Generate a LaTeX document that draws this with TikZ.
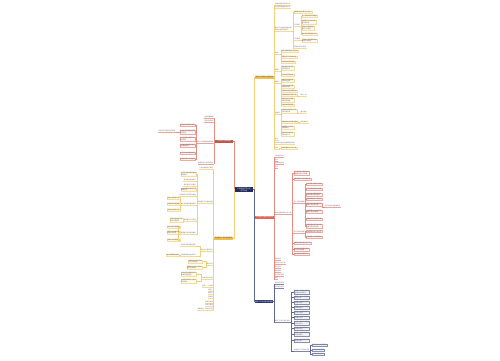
\documentclass[tikz,border=0pt]{standalone}
\usepackage{fontspec}
\newfontfamily\cjk{Noto Sans CJK SC}
\definecolor{navy}{HTML}{2A3470}
\definecolor{gold}{HTML}{F2BF4A}
\definecolor{rd}{HTML}{E0665A}
\definecolor{txt}{HTML}{6A6A6A}
\tikzset{
  every node/.style={font=\cjk\fontsize{1.5}{1.8}\selectfont, inner sep=.3pt, align=left, text=txt},
  lk/.style={draw=#1!75, line width=.22pt},
  lab/.style={append after command={(\tikzlastnode.south west) edge[draw=#1!60, line width=.2pt] (\tikzlastnode.south east)}},
  box/.style={draw=#1!55, fill=#1!6, line width=.2pt},
  mainbox/.style={fill=#1, minimum width=18pt, minimum height=3pt, inner sep=.4pt, font=\cjk\fontsize{1.6}{1.9}\selectfont},
  rootbox/.style={fill=navy!85!black, text=white, minimum width=18pt, minimum height=5pt, inner sep=.4pt, font=\cjk\fontsize{1.7}{2}\selectfont, align=center},
}
\begin{document}
\begin{tikzpicture}[x=1pt,y=-1pt]
\fill[white] (0,0) rectangle (500,360);
\useasboundingbox (0,0) rectangle (500,360);

% centre and main branches
\node[rootbox] (root) at (244,189.5) {公司年度工作计划\\范文大全};
\node[mainbox=gold, text=black!75, anchor=west] (gm) at (255,77) {年度工作目标与主要任务};
\node[mainbox=rd, text=white, anchor=west] (rm) at (255,217) {工作措施与具体实施安排};
\node[mainbox=navy, text=white, anchor=west] (nm) at (254.5,301.5) {各部门工作计划安排说明};
\node[mainbox=rd!85!black, text=white, anchor=east] (lm) at (233,141) {工作原则与保障措施};
\node[mainbox=gold, text=black!75, anchor=east] (ym) at (233,238) {年度重点工作安排及要求};

\draw[lk=gold, line width=.35pt] (root.east) -- ++(1,0) |- (gm.west);
\draw[lk=rd, line width=.35pt] (root.east) -- ++(1,0) |- (rm.west);
\draw[lk=navy, line width=.35pt] (root.east) -- ++(1,0) |- (nm.west);
\draw[lk=rd, line width=.35pt] (root.west) -- ++(-1,0) |- (lm.east);
\draw[lk=gold, line width=.35pt] (root.west) -- ++(-1,0) |- (ym.east);

% gold branch
\foreach \y/\tx [count=\i] in {4.3/{全面完成全年各项工作},7.3/{努力提升整体服务水平},29/{重点工作内容及具体实施\\措施与进度安排如下},53/{措施一},70/{措施二},82/{措施三},113/{措施四},139/{备注},143/{工作中存在的主要问题及改进},148/{改进}}
  {\node[lab=gold, anchor=west] (ga\i) at (274.6,\y) {\tx};
   \draw[lk=gold] (gm.east) -- ++(.8,0) |- (ga\i.south west);}

\node[box=gold, anchor=west] (gb1) at (293.5,12) {明确各岗位职责与工作分工};
\draw[lk=gold] (ga3.south east) -- ++(.8,0) |- (gb1.west);
\foreach \y/\tx [count=\i] in {25/{工作目标},39/{工作要求},47/{完成时间节点安排}}
  {\node[lab=gold, anchor=west] (gl\i) at (293.5,\y) {\tx};
   \draw[lk=gold] (ga3.south east) -- ++(.8,0) |- (gl\i.south west);}
\foreach \y/\tx [count=\i] in {16/{进一步提升客户满意度},22/{加强部门之间的沟通\\与协作配合},28/{完善内部管理制度\\规范工作流程},34/{做好年度预算控制工作}}
  {\node[box=gold, anchor=west] (gc\i) at (301.5,\y) {\tx};
   \draw[lk=gold] (gl1.south east) -- ++(.6,0) |- (gc\i.west);}
\node[box=gold, anchor=west] (gc5) at (301.5,40.5) {严格执行各项规章制度\\确保工作质量};
\draw[lk=gold] (gl2.south east) -- ++(.6,0) |- (gc5.west);

\foreach \y/\tx [count=\i] in {51/{制定详细的月度工作计划},57/{定期召开工作例会总结},62/{及时跟进各项目进度}}
  {\node[box=gold, anchor=west] (gd\i) at (281,\y) {\tx};
   \draw[lk=gold] (ga4.south east) -- ++(.6,0) |- (gd\i.west);}
\foreach \y/\tx [count=\i] in {68/{建立健全考核机制\\落实责任到人},75/{加大市场开拓力度}}
  {\node[box=gold, anchor=west] (ge\i) at (281,\y) {\tx};
   \draw[lk=gold] (ga5.south east) -- ++(.6,0) |- (ge\i.west);}
\foreach \y/\tx [count=\i] in {80.5/{加强员工业务培训\\提高专业技能},86.5/{优化客户服务流程\\缩短响应时间},91/{开展岗位技能竞赛活动},95/{认真做好客户回访工作},100/{加强安全生产管理\\消除安全隐患},105/{完善档案资料管理}}
  {\node[box=gold, anchor=west] (gf\i) at (281,\y) {\tx};
   \draw[lk=gold] (ga6.south east) -- ++(.6,0) |- (gf\i.west);}
\foreach \y/\tx [count=\i] in {111/{强化成本控制意识节约\\各项日常开支},122/{积极推进公司信息化建设},127.5/{加强团队文化建设\\增强凝聚力},134/{做好年终总结评比\\表彰先进个人}}
  {\node[box=gold, anchor=west] (gg\i) at (281,\y) {\tx};
   \draw[lk=gold] (ga7.south east) -- ++(.6,0) |- (gg\i.west);}
\node[box=gold, anchor=west] (gh1) at (281,148) {及时调整优化工作方法};
\draw[lk=gold] (ga10.south east) -- ++(.6,0) |- (gh1.west);

\node[lab=gold, anchor=west] (gx1) at (300,95) {每月一次};
\node[lab=gold, anchor=west] (gx2) at (300,112) {重点项目};
\node[lab=gold, anchor=west] (gx3) at (300,122) {持续推进中};
\draw[lk=gold] (gf4.east) -- ++(.6,0) |- (gx1.south west);
\draw[lk=gold] (gg1.east) -- ++(.6,0) |- (gx2.south west);
\draw[lk=gold] (gg2.east) -- ++(.6,0) |- (gx3.south west);

% red branch, right
\foreach \y/\tx [count=\i] in {156/{人员培训计划},160/{目标},163/{绩效考核办法},167/{时间},213/{具体实施步骤与工作方法},259/{经验总结},263/{经验交流与分享},267/{意见反馈},271/{激励措施},274.5/{奖惩制度说明},278/{附则}}
  {\node[lab=rd, anchor=west] (ra\i) at (274.3,\y) {\tx};
   \draw[lk=rd] (rm.east) -- ++(.8,0) |- (ra\i.south west);}

\foreach \y/\tx [count=\i] in {173/{成立专项工作领导小组\\明确各成员分工职责},179/{制定详细的工作实施方案},243/{开展阶段性检查评估工作},249.5/{对发现的问题及时整改\\并形成书面报告},254/{做好总结验收准备工作}}
  {\node[box=rd, anchor=west] (rb\i) at (293.5,\y) {\tx};
   \draw[lk=rd] (ra5.south east) -- ++(.8,0) |- (rb\i.west);}
\foreach \y/\tx [count=\i] in {202/{第一阶段准备期},232/{第二阶段实施期}}
  {\node[lab=rd, anchor=west] (rc\i) at (293.5,\y) {\tx};
   \draw[lk=rd] (ra5.south east) -- ++(.8,0) |- (rc\i.south west);}
\foreach \y/\tx [count=\i] in {184/{召开动员大会统一思想},189/{广泛宣传营造良好氛围},194.5/{组织人员认真学习相关\\文件精神和政策要求},199/{摸清底数建立工作台账},204.5/{制定各项配套制度措施\\确保工作有序开展},211.5/{合理配置人力物力资源\\保障工作顺利推进},219/{明确时间节点倒排工期},226/{加强督促检查及时发现\\并解决存在的问题}}
  {\node[box=rd, anchor=west] (rd\i) at (306,\y) {\tx};
   \draw[lk=rd] (rc1.south east) -- ++(.6,0) |- (rd\i.west);}
\foreach \y/\tx [count=\i] in {231.5/{全面推进各项工作任务},237/{定期通报工作进展情况}}
  {\node[box=rd, anchor=west] (re\i) at (306,\y) {\tx};
   \draw[lk=rd] (rc2.south east) -- ++(.6,0) |- (re\i.west);}
\node[lab=rd, anchor=west] (rx1) at (324.5,206) {逐步形成长效管理机制};
\draw[lk=rd] (rd5.east) -- ++(.6,0) |- (rx1.south west);

% navy branch
\foreach \y/\tx [count=\i] in {283/{相关附件说明},287/{参考资料目录},321/{各部门工作计划汇总表}}
  {\node[lab=navy, anchor=west] (na\i) at (274.3,\y) {\tx};
   \draw[lk=navy] (nm.east) -- ++(.8,0) |- (na\i.south west);}
\foreach \y/\tx [count=\i] in {292/{行政部：完善办公管理\\制度提高办事效率},297.5/{人事部：做好人员招聘\\与培训工作},302.5/{财务部：加强资金管理\\严格费用审批},307.5/{销售部：扩大市场份额\\完成销售目标},312.5/{市场部：做好品牌推广\\提升企业形象},317.5/{技术部：加快产品研发\\提升技术水平},323/{生产部：确保产品质量\\按时完成交付},328.5/{采购部：降低采购成本\\保证物资供应},334/{客服部：提高服务质量\\及时处理投诉},340.5/{后勤部：做好后勤保障\\服务全体员工}}
  {\node[box=navy, anchor=west] (nb\i) at (293.5,\y) {\tx};
   \draw[lk=navy] (na3.south east) -- ++(.8,0) |- (nb\i.west);}
\node[lab=navy, anchor=west] (nc) at (293.5,350) {其他部门工作安排说明};
\draw[lk=navy] (na3.south east) -- ++(.8,0) |- (nc.south west);
\foreach \y/\tx [count=\i] in {345/{按照公司统一部署要求},350/{结合自身实际情况},354/{制定具体实施计划}}
  {\node[box=navy, anchor=west] (nd\i) at (311.5,\y) {\tx};
   \draw[lk=navy] (nc.south east) -- ++(.6,0) |- (nd\i.west);}

% red branch, left
\foreach \y/\tx [count=\i] in {117/{坚持统筹兼顾},121/{坚持突出重点},142/{各项工作保障措施及要求},163/{确保各项工作落到实处}}
  {\node[lab=rd, anchor=east] (la\i) at (213.8,\y) {\tx};
   \draw[lk=rd] (lm.west) -- ++(-.8,0) |- (la\i.south east);}
\foreach \y/\tx [count=\i] in {125/{加强组织领导落实责任},132/{强化宣传引导营造浓厚\\工作氛围},139/{加大经费投入保障工作\\顺利开展},145.5/{严格督查考核确保各项\\任务按期完成},153/{建立工作信息报送制度},159/{注重总结推广先进经验}}
  {\node[box=rd, anchor=east] (lb\i) at (195.3,\y) {\tx};
   \draw[lk=rd] (la3.south west) -- ++(-.6,0) |- (lb\i.east);}
\node[lab=rd, anchor=east] (lx1) at (175.5,131) {形成齐抓共管的良好局面};
\draw[lk=rd] (lb2.west) -- ++(-.6,0) |- (lx1.south east);

% gold branch, left
\foreach \y/\tx [count=\i] in {168/{工作总体要求与目标},202/{年度重点工作具体内容},250/{安全生产管理工作},264/{其他工作},277.5/{考核评比与奖惩},286/{附表一：计划表},289.5/{附表二},293/{附表三},297/{附表四},301.5/{附表五说明},305/{附表六说明},309/{编制单位：综合办公室}}
  {\node[lab=gold, anchor=east] (ya\i) at (213.4,\y) {\tx};
   \draw[lk=gold] (ym.west) -- ++(-.8,0) |- (ya\i.south east);}

\foreach \y/\tx [count=\i] in {174/{抓好队伍建设提升整体\\素质能力},189.5/{加强制度建设规范日常\\管理行为}}
  {\node[box=gold, anchor=east] (yb\i) at (196.4,\y) {\tx};
   \draw[lk=gold] (ya2.south west) -- ++(-.6,0) |- (yb\i.east);}
\foreach \y/\tx [count=\i] in {180/{强化责任担当意识},185/{狠抓各项工作落实},194.5/{切实提升工作效率与质量},204/{重点项目建设推进情况},220/{其他重点工作安排},233/{日常管理工作安排及要求}}
  {\node[lab=gold, anchor=east] (yc\i) at (196.4,\y) {\tx};
   \draw[lk=gold] (ya2.south west) -- ++(-.6,0) |- (yc\i.south east);}
\foreach \y/\tx [count=\i] in {198/{项目立项审批工作},204/{项目建设实施管理},210/{项目竣工验收工作}}
  {\node[box=gold, anchor=east] (yd\i) at (179.8,\y) {\tx};
   \draw[lk=gold] (yc4.south west) -- ++(-.6,0) |- (yd\i.east);}
\node[box=gold, anchor=east] (ye1) at (182.8,220) {做好节能减排工作\\落实环保要求};
\draw[lk=gold] (yc5.south west) -- ++(-.6,0) |- (ye1.east);
\foreach \y/\tx [count=\i] in {227/{做好日常考勤管理},232.5/{规范文件收发流程\\提高办文效率},240/{加强办公用品管理}}
  {\node[box=gold, anchor=east] (yf\i) at (179.8,\y) {\tx};
   \draw[lk=gold] (yc6.south west) -- ++(-.6,0) |- (yf\i.east);}

\foreach \y/\tx [count=\i] in {245/{定期开展安全教育培训},255/{开展隐患排查治理工作}}
  {\node[lab=gold, anchor=east] (yg\i) at (196.4,\y) {\tx};
   \draw[lk=gold] (ya3.south west) -- ++(-.6,0) |- (yg\i.south east);}
\node[box=gold, anchor=east] (yh1) at (179,255) {建立隐患整改台账};
\draw[lk=gold] (yg2.south west) -- ++(-.4,0) |- (yh1.east);
\foreach \y/\tx [count=\i] in {261.5/{加强对外交流与合作\\学习先进经验},267.5/{积极参与社会公益活动\\履行社会责任}}
  {\node[box=gold, anchor=east] (yi\i) at (202.5,\y) {\tx};
   \draw[lk=gold] (ya4.south west) -- ++(-.6,0) |- (yi\i.east);}
\foreach \y/\tx [count=\i] in {274/{年终进行全面考核评比\\结果与绩效挂钩},281/{对表现突出的个人给予\\表彰奖励}}
  {\node[box=gold, anchor=east] (yj\i) at (196.4,\y) {\tx};
   \draw[lk=gold] (ya5.south west) -- ++(-.6,0) |- (yj\i.east);}
\end{tikzpicture}
\end{document}
